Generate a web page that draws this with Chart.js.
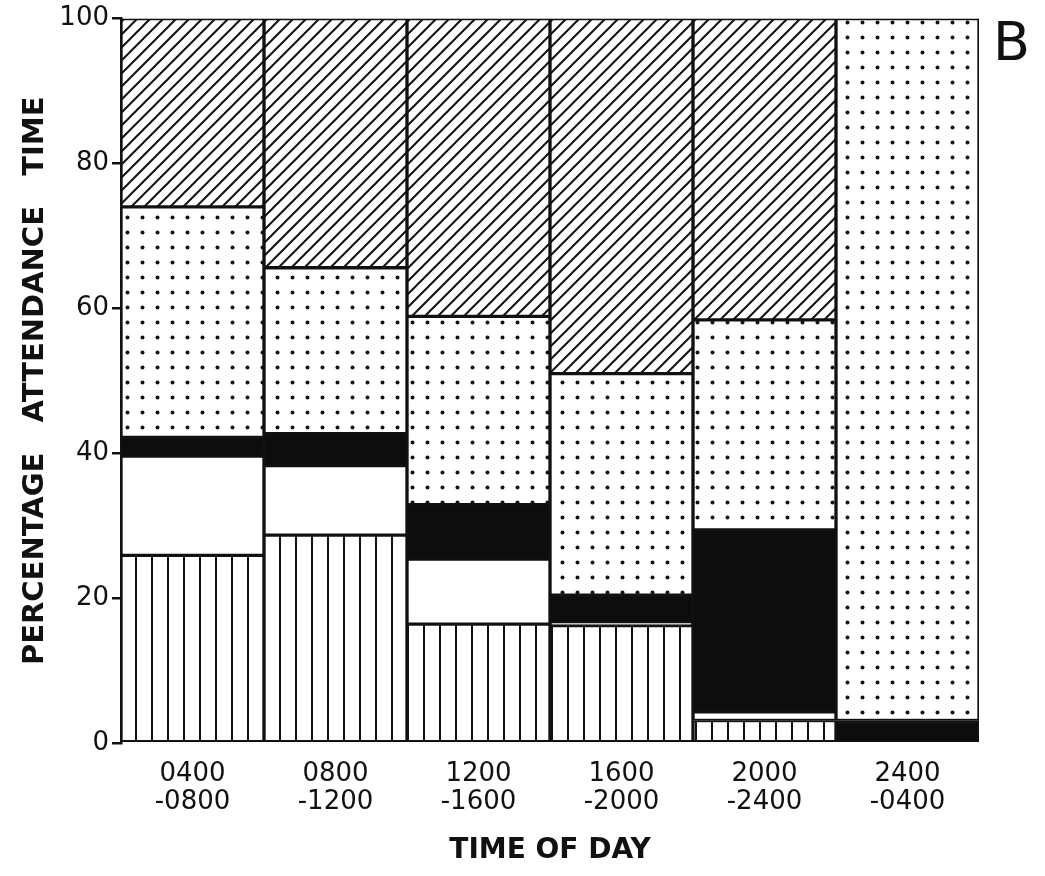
<!DOCTYPE html>
<html lang="en">
  <head>
    <meta charset="UTF-8" />
    <title>Percentage attendance time by time of day</title>
    <script src="https://cdn.jsdelivr.net/npm/chart.js"></script>
    <style>
      body { margin: 0; background: #fff; }
      #wrap { width: 1045px; height: 876px; }
    </style>
  </head>
  <body>
    <div id="wrap"><canvas id="myChart" width="1045" height="876"></canvas></div>

    <script>
      // time bins along the x axis (two-line labels)
      var timeBins = [
        ["0400", "-0800"],
        ["0800", "-1200"],
        ["1200", "-1600"],
        ["1600", "-2000"],
        ["2000", "-2400"],
        ["2400", "-0400"],
      ];

      // stacked segments, bottom to top (percent of attendance time)
      var verticalSeg = [25.9, 28.7, 16.4, 16.2, 3.1, null];
      var openSeg = [13.7, 9.6, 9.0, 0.5, 1.2, null];
      var solidSeg = [2.6, 4.4, 7.5, 3.7, 25.1, 3.1];
      var dottedSeg = [31.8, 22.9, 26.0, 30.6, 29.0, 96.9];
      var diagonalSeg = [26.0, 34.4, 41.1, 49.0, 41.6, null];

      var yTicks = [0, 20, 40, 60, 80, 100];

      var ink = "#111";
      var ctx = document.getElementById("myChart").getContext("2d");

      // small tiles used as fill patterns
      function makeTile(w, h, draw) {
        var c = document.createElement("canvas");
        c.width = w;
        c.height = h;
        var t = c.getContext("2d");
        t.fillStyle = "#fff";
        t.fillRect(0, 0, w, h);
        t.strokeStyle = ink;
        t.fillStyle = ink;
        draw(t, w, h);
        return ctx.createPattern(c, "repeat");
      }

      var vertPattern = makeTile(16, 16, function (t, w, h) {
        t.fillRect(7, 0, 2, h);
      });

      var dotPattern = makeTile(15, 15, function (t, w, h) {
        t.beginPath();
        t.arc(7.5, 7.5, 2, 0, Math.PI * 2);
        t.fill();
      });

      var diagPattern = makeTile(13, 13, function (t, s) {
        t.lineWidth = 2;
        t.beginPath();
        t.moveTo(0, s);
        t.lineTo(s, 0);
        t.moveTo(-2, 2);
        t.lineTo(2, -2);
        t.moveTo(s - 2, s + 2);
        t.lineTo(s + 2, s - 2);
        t.stroke();
      });

      function segment(label, data, fill) {
        return {
          label: label,
          data: data,
          backgroundColor: fill,
          borderColor: ink,
          borderWidth: 2,
          borderSkipped: false,
          categoryPercentage: 1,
          barPercentage: 1,
        };
      }

      // panel letter in the top right corner
      var panelLetter = {
        id: "panelLetter",
        afterDraw: function (chart) {
          var c = chart.ctx;
          c.save();
          c.fillStyle = ink;
          c.font = "54px 'DejaVu Sans'";
          c.textAlign = "left";
          c.textBaseline = "alphabetic";
          c.fillText("B", 993, 60);
          c.restore();
        },
      };

      var tickFont = { family: "DejaVu Sans", size: 26 };

      new Chart(ctx, {
        type: "bar",
        data: {
          labels: timeBins,
          datasets: [
            segment("vertical", verticalSeg, vertPattern),
            segment("open", openSeg, "#fff"),
            segment("solid", solidSeg, "#0d0d0d"),
            segment("dotted", dottedSeg, dotPattern),
            segment("diagonal", diagonalSeg, diagPattern),
          ],
        },
        options: {
          responsive: false,
          animation: false,
          layout: { padding: { top: 17, right: 66, left: 0, bottom: 0 } },
          plugins: { legend: { display: false }, tooltip: { enabled: false } },
          scales: {
            x: {
              stacked: true,
              grid: { display: false },
              border: { display: false },
              ticks: {
                color: ink,
                font: { family: "DejaVu Sans", size: 26, lineHeight: 1.08 },
                padding: 9,
                maxRotation: 0,
              },
              title: {
                display: true,
                text: "TIME OF DAY",
                color: ink,
                font: { family: "DejaVu Sans", size: 28, weight: "bold" },
                padding: { bottom: 8 },
              },
              afterFit: function (scale) {
                scale.height = 133;
              },
            },
            y: {
              stacked: true,
              min: 0,
              max: 100,
              afterBuildTicks: function (scale) {
                scale.ticks = yTicks.map(function (v) {
                  return { value: v };
                });
              },
              grid: {
                drawOnChartArea: false,
                color: ink,
                lineWidth: 2.5,
                tickLength: 9,
              },
              border: { display: true, color: ink, width: 2.5 },
              ticks: { color: ink, font: tickFont, padding: 3 },
              title: {
                display: true,
                text: "PERCENTAGE   ATTENDANCE   TIME",
                color: ink,
                font: { family: "DejaVu Sans", size: 29, weight: "bold" },
                padding: { top: 18 },
              },
              afterFit: function (scale) {
                scale.width = 121;
              },
            },
          },
        },
        plugins: [panelLetter],
      });
    </script>
  </body>
</html>
